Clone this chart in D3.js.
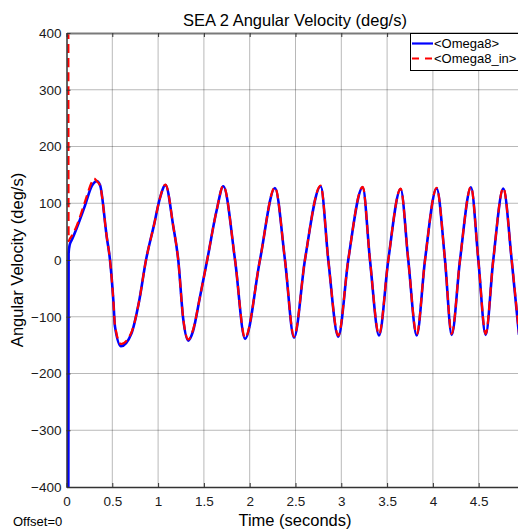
<!DOCTYPE html>
<html>
<head>
<meta charset="utf-8">
<script src="https://cdn.jsdelivr.net/npm/d3@7"></script>
<style>
  html, body { margin: 0; padding: 0; background: #ffffff; }
  svg { display: block; font-family: "Liberation Sans", Arial, sans-serif; }
</style>
</head>
<body>
<svg id="chart" width="518" height="531"></svg>
<script>
// Time samples (s) shared by both traces
const timeS = [0.020, 0.023, 0.035, 0.060, 0.111, 0.202, 0.275, 0.300, 0.330, 0.366,
  0.439, 0.475, 0.511, 0.529, 0.595, 0.710, 0.790, 0.868, 0.960, 1.015,
  1.081, 1.166, 1.220, 1.275, 1.330, 1.380, 1.457, 1.536, 1.640, 1.712, 1.840,
  1.949, 2.112, 2.276, 2.385, 2.484, 2.603, 2.775, 2.858, 2.967, 3.076,
  3.234, 3.313, 3.412, 3.513, 3.648, 3.731, 3.823, 3.914, 4.041, 4.132,
  4.205, 4.296, 4.416, 4.496, 4.576, 4.659, 4.769, 4.860, 4.940];

// Measured joint velocity <Omega8> (deg/s)
const omega8 = [-430, 12, 27, 36, 56, 96, 130, 136, 139, 132,
  41, 0, -70, -117, -152, -129, -75, 0, 65, 106,
  132, 59, 0, -105, -142, -126, -65, 0, 88, 130, 0,
  -139, 0, 127, 0, -137, 0, 130, 0, -135, 0,
  128, 0, -133, 0, 125, 0, -133, 0, 126, 0,
  -132, 0, 128, 0, -132, 0, 126, 0, -132];

// Commanded joint velocity <Omega8_in> (deg/s)
const omega8In = [430, 33, 37, 43, 60, 103, 137, 144, 139, 131,
  41, 0, -70, -115, -148, -127, -75, 0, 65, 106,
  133, 59, 0, -104, -140, -124, -65, 0, 88, 131, 0,
  -137, 0, 128, 0, -135, 0, 131, 0, -133, 0,
  129, 0, -131, 0, 126, 0, -131, 0, 127, 0,
  -130, 0, 129, 0, -130, 0, 127, 0, -130];

const xTicks = [0, 0.5, 1, 1.5, 2, 2.5, 3, 3.5, 4, 4.5];
const xTickLabels = ["0", "0.5", "1", "1.5", "2", "2.5", "3", "3.5", "4", "4.5"];
const yTicks = [-400, -300, -200, -100, 0, 100, 200, 300, 400];
const yTickLabels = ["\u2212400", "\u2212300", "\u2212200", "\u2212100", "0", "100", "200", "300", "400"];

const seriesNames = ["<Omega8>", "<Omega8_in>"];
const seriesColors = ["#0000ff", "#ff0000"];

const svg = d3.select("#chart");
const plotLeft = 66.5, plotTop = 33, plotBottom = 487, plotRight = 524.5;

const x = d3.scaleLinear().domain([0, 5]).range([plotLeft, plotRight]);
const y = d3.scaleLinear().domain([-400, 400]).range([plotBottom, plotTop]);

// Grid
const grid = svg.append("g");
grid.selectAll("line.v").data(xTicks.slice(1)).join("line")
  .attr("x1", d => x(d)).attr("x2", d => x(d))
  .attr("y1", plotTop).attr("y2", plotBottom)
  .attr("stroke", "#000").attr("stroke-opacity", 0.28).attr("stroke-width", 1);
grid.selectAll("line.h").data(yTicks.slice(1, -1)).join("line")
  .attr("x1", plotLeft).attr("x2", 520)
  .attr("y1", d => y(d)).attr("y2", d => y(d))
  .attr("stroke", "#000").attr("stroke-opacity", 0.28).attr("stroke-width", 1);

// Traces
svg.append("clipPath").attr("id", "plotClip").append("rect")
  .attr("x", plotLeft).attr("y", plotTop)
  .attr("width", plotRight - plotLeft).attr("height", plotBottom - plotTop);

const line = vals => d3.line()
  .x((d, i) => x(timeS[i]))
  .y(d => y(d))
  .curve(d3.curveMonotoneX)(vals);

const plot = svg.append("g").attr("clip-path", "url(#plotClip)");
plot.append("path").attr("d", line(omega8))
  .attr("fill", "none").attr("stroke", seriesColors[0]).attr("stroke-width", 2.6)
  .attr("stroke-linejoin", "round");
plot.append("path").attr("d", line(omega8In))
  .attr("fill", "none").attr("stroke", seriesColors[1]).attr("stroke-width", 2.2)
  .attr("stroke-dasharray", "9,5");

// Axes
const xAxisBottom = d3.axisBottom(x).tickValues(xTicks)
  .tickFormat((d, i) => xTickLabels[i]).tickSizeInner(-4).tickSizeOuter(0).tickPadding(9);
const gx = svg.append("g").attr("transform", `translate(0,${plotBottom})`).call(xAxisBottom);
gx.select(".domain").attr("stroke", "#333").attr("stroke-width", 1.5);
gx.selectAll(".tick line").attr("stroke", "#333");
gx.selectAll("text").attr("font-size", "13.5px").attr("fill", "#1a1a1a")
  .attr("font-family", "Liberation Sans, Arial, sans-serif");

const xAxisTop = d3.axisTop(x).tickValues(xTicks).tickFormat("").tickSizeInner(-4).tickSizeOuter(0);
const gxt = svg.append("g").attr("transform", `translate(0,${plotTop})`).call(xAxisTop);
gxt.select(".domain").attr("stroke", "#7a7a7a").attr("stroke-width", 2);
gxt.selectAll(".tick line").attr("stroke", "#333");

const yAxis = d3.axisLeft(y).tickValues(yTicks)
  .tickFormat((d, i) => yTickLabels[i]).tickSizeInner(-4).tickSizeOuter(0).tickPadding(5);
const gy = svg.append("g").attr("transform", `translate(${plotLeft},0)`).call(yAxis);
gy.select(".domain").attr("stroke", "#333").attr("stroke-width", 1.5);
gy.selectAll(".tick line").attr("stroke", "#333");
gy.selectAll("text").attr("font-size", "13.5px").attr("fill", "#1a1a1a")
  .attr("font-family", "Liberation Sans, Arial, sans-serif");

// Titles
svg.append("text").attr("x", 295).attr("y", 26).attr("text-anchor", "middle")
  .attr("font-size", "16.5px").attr("fill", "#000").text("SEA 2 Angular Velocity (deg/s)");
svg.append("text").attr("x", 295).attr("y", 526).attr("text-anchor", "middle")
  .attr("font-size", "16.5px").attr("fill", "#000").text("Time (seconds)");
svg.append("text").attr("transform", "translate(23,260) rotate(-90)").attr("text-anchor", "middle")
  .attr("font-size", "16.5px").attr("fill", "#000").text("Angular Velocity (deg/s)");
svg.append("text").attr("x", 13).attr("y", 526)
  .attr("font-size", "13px").attr("fill", "#000").text("Offset=0");

// Legend
const lg = svg.append("g");
lg.append("rect").attr("x", 410.5).attr("y", 33.5).attr("width", 115).attr("height", 37)
  .attr("fill", "#fff").attr("stroke", "#000").attr("stroke-width", 1);
seriesNames.forEach((name, i) => {
  const cy = 43.5 + i * 15;
  lg.append("line").attr("x1", 412).attr("x2", 433).attr("y1", cy).attr("y2", cy)
    .attr("stroke", seriesColors[i]).attr("stroke-width", 2.2)
    .attr("stroke-dasharray", i === 1 ? "7,6" : null);
  lg.append("text").attr("x", 434).attr("y", cy + 4.6).attr("font-size", "13px")
    .attr("fill", "#000").text(name);
});
</script>
</body>
</html>
